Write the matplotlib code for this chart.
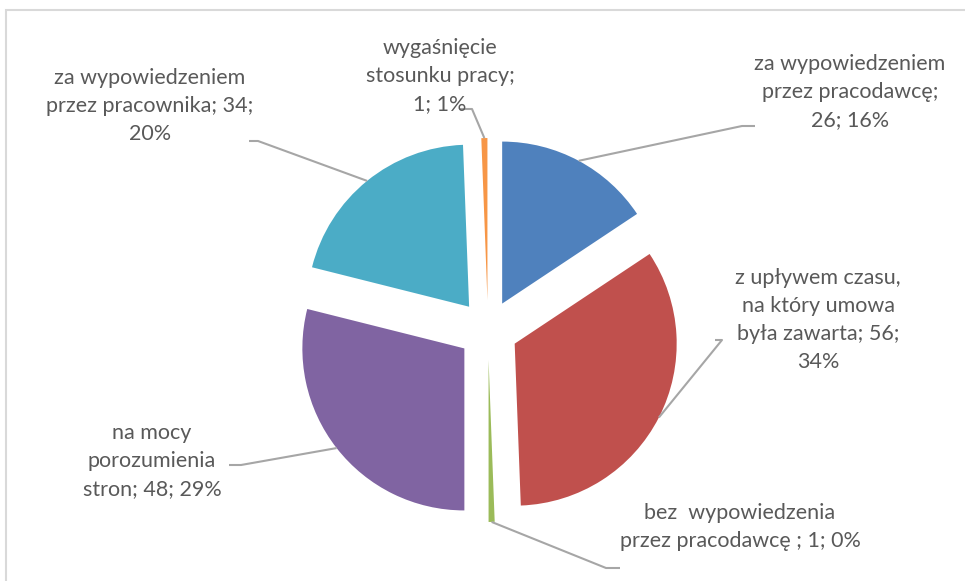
import numpy as np
import matplotlib.pyplot as plt
from matplotlib.patches import Rectangle

plt.rcParams['font.family'] = ['Lato', 'DejaVu Sans']

# data (clockwise from 12 o'clock)
categories = ['za wypowiedzeniem\nprzez pracodawcę;',
              'z upływem czasu,\nna który umowa\nbyła zawarta;',
              'bez  wypowiedzenia\nprzez pracodawcę ;',
              'na mocy\nporozumienia\nstron;',
              'za wypowiedzeniem\nprzez pracownika;',
              'wygaśnięcie\nstosunku pracy;']
values = [26, 56, 1, 48, 34, 1]
pct_labels = ['16%', '34%', '0%', '29%', '20%', '1%']
label_texts = ['za wypowiedzeniem\nprzez pracodawcę;\n26; 16%',
               'z upływem czasu,\nna który umowa\nbyła zawarta; 56;\n34%',
               'bez  wypowiedzenia\nprzez pracodawcę ; 1; 0%',
               'na mocy\nporozumienia\nstron; 48; 29%',
               'za wypowiedzeniem\nprzez pracownika; 34;\n20%',
               'wygaśnięcie\nstosunku pracy;\n1; 1%']
colors = ['#4F81BD', '#C0504D', '#9BBB59', '#8064A2', '#4BACC6', '#F79646']

W, H = 965, 581
CX, CY, R = 488, 330, 162

def px(x, y):
    return ((x - CX) / R, (CY - y) / R)

fig = plt.figure(figsize=(W / 100, H / 100), dpi=100)
ax = fig.add_axes([0, 0, 1, 1])

# outer chart frame (cropped on right and bottom)
fig.patches.append(Rectangle((6 / W, -0.02), 1.05, 1 - 10 / H + 0.02,
                             transform=fig.transFigure, fill=False,
                             edgecolor='#d9d9d9', linewidth=1.5))

wedges, _ = ax.pie(values, colors=colors, startangle=90, counterclock=False,
                   explode=[0.185] * len(values), radius=1,
                   wedgeprops=dict(linewidth=0))
ax.set_xlim(-CX / R, (W - CX) / R)
ax.set_ylim(-(H - CY) / R, CY / R)
ax.set_aspect('auto')
ax.axis('off')

# label placement: text centre (px), elbow (px), end of short horizontal (px)
label_pos = [(850, 92), (818, 320), (740, 527), (152, 461), (150, 106), (440, 76)]
elbows = [((742, 126), (755, 126)),
          ((722, 340), (715, 340)),
          ((606, 568), (620, 568)),
          ((241, 465), (229, 465)),
          ((258, 141), (249, 141)),
          ((472, 109), (460, 109))]

for w, txt, (tx, ty), (elb, end) in zip(wedges, label_texts, label_pos, elbows):
    ang = np.deg2rad((w.theta1 + w.theta2) / 2)
    x0 = w.center[0] + w.r * np.cos(ang)
    y0 = w.center[1] + w.r * np.sin(ang)
    ex, ey = px(*elb)
    hx, hy = px(*end)
    ax.plot([x0, ex, hx], [y0, ey, hy], color='#a6a6a6', linewidth=1.5,
            solid_capstyle='butt')
    lx, ly = px(tx, ty)
    ax.text(lx, ly, txt, ha='center', va='center', fontsize=15.5,
            color='#595959', linespacing=1.48)

fig.savefig('out.png', dpi=100)
